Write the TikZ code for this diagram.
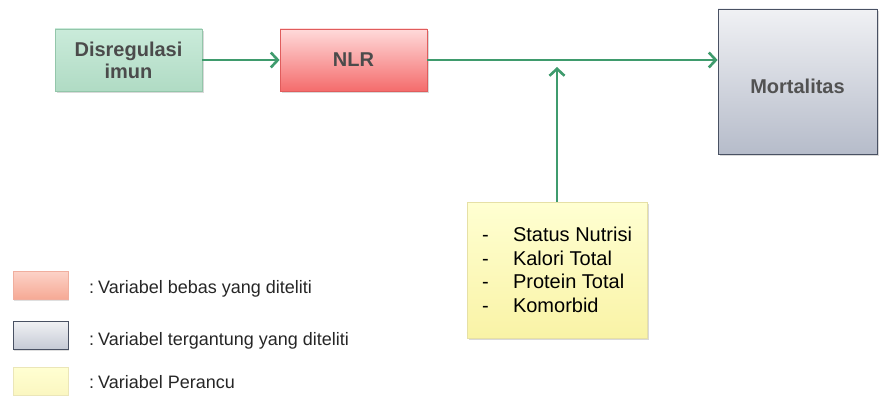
\documentclass[tikz,border=0pt]{standalone}
\usepackage{fontspec}
\setmainfont{Liberation Sans}
\usetikzlibrary{arrows.meta,shadows,calc}

% warna
\definecolor{hijauA}{HTML}{CAEBDA}
\definecolor{hijauB}{HTML}{B0DBC4}
\definecolor{hijauC}{HTML}{93C6AA}
\definecolor{merahA}{HTML}{FFDADA}
\definecolor{merahB}{HTML}{F46C6C}
\definecolor{merahC}{HTML}{E05C5C}
\definecolor{abuA}{HTML}{F0F1F4}
\definecolor{abuB}{HTML}{B6BCCA}
\definecolor{abuC}{HTML}{495163}
\definecolor{kuningA}{HTML}{FFFFD2}
\definecolor{kuningB}{HTML}{F9F3A6}
\definecolor{kuningC}{HTML}{E6E0A6}
\definecolor{salemA}{HTML}{FCD3C8}
\definecolor{salemB}{HTML}{F6A995}
\definecolor{salemC}{HTML}{F0AE9E}
\definecolor{panahH}{HTML}{3F9B6D}
\definecolor{teksT}{HTML}{4B4B4B}

\tikzset{
  kotak/.style={draw, line width=0.8pt, minimum width=147pt, minimum height=62pt,
    align=center, inner sep=2pt, font=\fontsize{20}{22}\selectfont\bfseries, text=teksT,
    drop shadow={opacity=0.3, shadow xshift=1.5pt, shadow yshift=-2pt}},
  panah/.style={-{Straight Barb[length=7pt, width=15pt, line width=2.6pt]}, draw=panahH, line width=2.8pt},
  contoh/.style={draw, line width=0.8pt, minimum width=55pt, minimum height=28pt,
    drop shadow={opacity=0.25, shadow xshift=1pt, shadow yshift=-1.5pt}},
  ket/.style={anchor=base west, inner sep=0pt, font=\fontsize{18}{20}\selectfont, text=black!85}
}

\begin{document}
\begin{tikzpicture}[x=1pt, y=-1pt]
  \useasboundingbox (0,0) rectangle (879,396);
  % kotak utama
  \node[kotak, top color=hijauA, bottom color=hijauB, draw=hijauC] (imun) at (128.5,60) {Disregulasi\\imun};
  \node[kotak, top color=merahA, bottom color=merahB, draw=merahC] (nlr) at (353.5,60) {NLR};
  \node[kotak, minimum width=159pt, minimum height=145pt, top color=abuA, bottom color=abuB,
    draw=abuC, text=black!68, text height=25pt, text depth=0pt] (mort) at (797.5,81.5) {Mortalitas};
  \node[kotak, minimum width=180pt, minimum height=136pt, top color=kuningA, bottom color=kuningB,
    draw=kuningC, align=left, font=\fontsize{20}{23.5}\selectfont, text=black] (perancu) at (557,270)
    {\makebox[31pt][l]{-}Status Nutrisi\\\makebox[31pt][l]{-}Kalori Total\\
     \makebox[31pt][l]{-}Protein Total\\\makebox[31pt][l]{-}Komorbid};
  % panah
  \coordinate (temu) at (perancu.north |- nlr.east);
  \draw[panah] (imun) -- (nlr);
  \draw[panah] (nlr.east) -- (nlr.east -| mort.west);
  \draw[panah] (perancu.north) -- ([yshift=-7pt]temu);
  % keterangan
  \node[contoh, top color=salemA, bottom color=salemB, draw=salemC] (kBebas) at (40.5,285) {};
  \node[contoh, top color=abuA, bottom color=abuB!80, draw=abuC] (kTergantung) at (40.5,335.5) {};
  \node[contoh, top color=kuningA, bottom color=kuningB!70, draw=kuningC!80] (kPerancu) at (40.5,381) {};
  \node[ket] (tBebas) at (89,293) {:\hspace{4pt}Variabel bebas yang diteliti};
  \node[ket] (tTergantung) at (89,345) {:\hspace{4pt}Variabel tergantung yang diteliti};
  \node[ket] (tPerancu) at (89,388) {:\hspace{4pt}Variabel Perancu};
\end{tikzpicture}
\end{document}
